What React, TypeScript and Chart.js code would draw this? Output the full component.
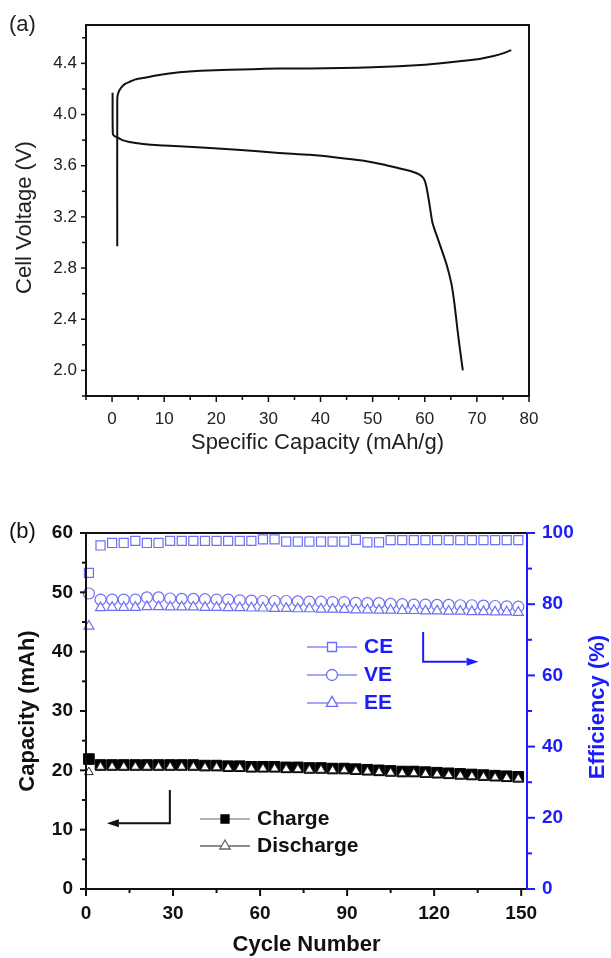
import React, { useEffect, useRef } from 'react';
import { Chart, registerables } from 'chart.js';

Chart.register(...registerables);

const FONT = '"Liberation Sans", Arial, Helvetica, sans-serif';

// ---------- Panel (a): voltage profile ----------
const CHARGE_CAP = [1.0, 1.0, 1.2, 1.75, 2.5, 3.35, 4.5, 6.5, 9, 12.9, 17, 22.5, 27, 32, 38, 44, 50, 55, 60, 64, 67.5, 70.5, 73, 75, 76.6];
const CHARGE_V = [2.97, 4.12, 4.17, 4.21, 4.24, 4.256, 4.275, 4.29, 4.31, 4.33, 4.342, 4.35, 4.355, 4.36, 4.36, 4.363, 4.37, 4.378, 4.39, 4.405, 4.42, 4.434, 4.455, 4.478, 4.504];
const DISCHARGE_CAP = [0.1, 0.15, 0.5, 1.1, 2, 3.35, 6, 9, 12.9, 18, 24, 32, 38, 43, 48, 52, 55, 57.5, 59, 59.8, 60.3, 60.9, 61.5, 62.5, 64.1, 65.1, 65.7, 66.3, 66.8, 67.3];
const DISCHARGE_V = [4.17, 3.85, 3.83, 3.82, 3.8, 3.785, 3.77, 3.76, 3.753, 3.74, 3.725, 3.7, 3.685, 3.665, 3.64, 3.61, 3.58, 3.555, 3.53, 3.5, 3.44, 3.3, 3.15, 3.03, 2.84, 2.68, 2.52, 2.31, 2.15, 2.0];
const A_X_LABEL_TICKS = [0, 10, 20, 30, 40, 50, 60, 70, 80];
const A_X_MINOR_TICKS = [-5, 5, 15, 25, 35, 45, 55, 65, 75];
const A_Y_LABEL_TICKS = [2.0, 2.4, 2.8, 3.2, 3.6, 4.0, 4.4];
const A_Y_MINOR_TICKS = [1.8, 2.2, 2.6, 3.0, 3.4, 3.8, 4.2, 4.6];

// ---------- Panel (b): cycling ----------
const CYCLES = [1, 5, 9, 13, 17, 21, 25, 29, 33, 37, 41, 45, 49, 53, 57, 61, 65, 69, 73, 77, 81, 85, 89, 93, 97, 101, 105, 109, 113, 117, 121, 125, 129, 133, 137, 141, 145, 149];
const CHARGE_MAH = [21.9, 20.9, 20.9, 20.9, 20.9, 20.9, 20.9, 20.9, 20.9, 20.9, 20.8, 20.8, 20.7, 20.7, 20.6, 20.6, 20.6, 20.5, 20.5, 20.4, 20.4, 20.3, 20.3, 20.2, 20.1, 20.0, 19.9, 19.8, 19.8, 19.7, 19.6, 19.5, 19.4, 19.3, 19.2, 19.1, 19.0, 18.9];
const DISCHARGE_MAH = [19.7, 20.6, 20.6, 20.6, 20.6, 20.6, 20.6, 20.6, 20.6, 20.6, 20.5, 20.5, 20.4, 20.4, 20.3, 20.3, 20.3, 20.2, 20.2, 20.1, 20.1, 20.0, 20.0, 19.9, 19.8, 19.7, 19.6, 19.5, 19.5, 19.4, 19.3, 19.2, 19.1, 19.0, 18.9, 18.8, 18.7, 18.6];
const CE = [88.8, 96.5, 97.2, 97.2, 97.8, 97.2, 97.2, 97.8, 97.8, 97.8, 97.8, 97.8, 97.8, 97.8, 97.8, 98.2, 98.2, 97.6, 97.6, 97.6, 97.6, 97.6, 97.6, 98.1, 97.4, 97.4, 98.0, 98.0, 98.0, 98.0, 98.0, 98.0, 98.0, 98.0, 98.0, 98.0, 98.0, 98.0];
const VE = [83.0, 81.3, 81.3, 81.3, 81.3, 81.9, 81.9, 81.6, 81.5, 81.5, 81.4, 81.3, 81.3, 81.1, 81.0, 80.9, 80.9, 80.9, 80.8, 80.7, 80.7, 80.6, 80.6, 80.4, 80.3, 80.3, 80.1, 80.0, 79.9, 79.9, 79.8, 79.8, 79.7, 79.7, 79.6, 79.5, 79.4, 79.3];
const EE = [73.8, 79.0, 79.1, 79.1, 79.1, 79.3, 79.3, 79.2, 79.2, 79.2, 79.1, 79.1, 79.0, 79.0, 78.9, 78.9, 78.8, 78.8, 78.7, 78.7, 78.6, 78.6, 78.5, 78.4, 78.4, 78.3, 78.3, 78.2, 78.2, 78.1, 78.1, 78.0, 78.0, 77.9, 77.9, 77.8, 77.8, 77.7];
const B_X_LABEL_TICKS = [0, 30, 60, 90, 120, 150];
const B_X_MINOR_TICKS = [15, 45, 75, 105, 135];
const B_YL_LABEL_TICKS = [0, 10, 20, 30, 40, 50, 60];
const B_YL_MINOR_TICKS = [5, 15, 25, 35, 45, 55];
const B_YR_LABEL_TICKS = [0, 20, 40, 60, 80, 100];
const B_YR_MINOR_TICKS = [10, 30, 50, 70, 90];

const BLUE = '#1c1cff';
const MARK_BLUE = '#6e6ef2';

function ticksV(ctx: CanvasRenderingContext2D, scale: any, values: number[], xEdge: number, dir: number, len: number) {
  values.forEach((v) => {
    const p = scale.getPixelForValue(v);
    ctx.beginPath();
    ctx.moveTo(xEdge, p);
    ctx.lineTo(xEdge + dir * len, p);
    ctx.stroke();
  });
}
function ticksH(ctx: CanvasRenderingContext2D, scale: any, values: number[], yEdge: number, len: number) {
  values.forEach((v) => {
    const p = scale.getPixelForValue(v);
    ctx.beginPath();
    ctx.moveTo(p, yEdge);
    ctx.lineTo(p, yEdge + len);
    ctx.stroke();
  });
}
function text(ctx: CanvasRenderingContext2D, s: string, x: number, y: number, font: string, color: string, align: CanvasTextAlign = 'center', rot = 0) {
  ctx.save();
  ctx.font = font;
  ctx.fillStyle = color;
  ctx.textAlign = align;
  ctx.textBaseline = 'middle';
  ctx.translate(x, y);
  if (rot) ctx.rotate(rot);
  ctx.fillText(s, 0, 0);
  ctx.restore();
}
function marker(ctx: CanvasRenderingContext2D, style: string, x: number, y: number, size: number, fill: string, stroke: string, lw: number) {
  ctx.save();
  ctx.beginPath();
  if (style === 'rect') ctx.rect(x - size / 2, y - size / 2, size, size);
  else if (style === 'circle') ctx.arc(x, y, size / 2, 0, Math.PI * 2);
  else {
    const r = size * 0.6;
    ctx.moveTo(x, y - r);
    ctx.lineTo(x + r * 0.866, y + r / 2);
    ctx.lineTo(x - r * 0.866, y + r / 2);
    ctx.closePath();
  }
  ctx.fillStyle = fill;
  ctx.fill();
  ctx.lineWidth = lw;
  ctx.strokeStyle = stroke;
  ctx.stroke();
  ctx.restore();
}

const panelAPlugin = {
  id: 'panelA',
  afterDraw(chart: any) {
    const { ctx, chartArea: a, scales } = chart;
    const x = scales.x;
    const y = scales.y;
    ctx.save();
    ctx.strokeStyle = '#111';
    ctx.lineWidth = 2;
    ctx.strokeRect(a.left, a.top, a.right - a.left, a.bottom - a.top);
    ctx.lineWidth = 1.5;
    ticksV(ctx, y, A_Y_LABEL_TICKS, a.left, -1, 5);
    ticksV(ctx, y, A_Y_MINOR_TICKS, a.left, -1, 4);
    ticksH(ctx, x, A_X_LABEL_TICKS, a.bottom, 6);
    ticksH(ctx, x, A_X_MINOR_TICKS, a.bottom, 4);
    ctx.restore();
    const cx = (a.left + a.right) / 2;
    const cy = (a.top + a.bottom) / 2;
    text(ctx, 'Specific Capacity (mAh/g)', cx + 10, a.bottom + 47, `22px ${FONT}`, '#222');
    text(ctx, 'Cell Voltage (V)', a.left - 61, cy + 7, `22px ${FONT}`, '#222', 'center', -Math.PI / 2);
    text(ctx, '(a)', 9, 25, `22px ${FONT}`, '#222', 'left');
  },
};

const panelBPlugin = {
  id: 'panelB',
  afterDraw(chart: any) {
    const { ctx, chartArea: a, scales } = chart;
    const x = scales.x;
    const yl = scales.y;
    const yr = scales.y2;
    ctx.save();
    ctx.lineCap = 'butt';
    ctx.lineWidth = 2;
    ctx.strokeStyle = '#111';
    ctx.beginPath();
    ctx.moveTo(a.right, a.top);
    ctx.lineTo(a.left, a.top);
    ctx.lineTo(a.left, a.bottom);
    ctx.lineTo(a.right, a.bottom);
    ctx.stroke();
    ctx.strokeStyle = BLUE;
    ctx.beginPath();
    ctx.moveTo(a.right, a.top - 1);
    ctx.lineTo(a.right, a.bottom + 1);
    ctx.stroke();
    ctx.lineWidth = 2;
    ctx.strokeStyle = '#111';
    ticksV(ctx, yl, B_YL_LABEL_TICKS, a.left, -1, 6);
    ticksV(ctx, yl, B_YL_MINOR_TICKS, a.left, -1, 4);
    ticksH(ctx, x, B_X_LABEL_TICKS, a.bottom, 7);
    ticksH(ctx, x, B_X_MINOR_TICKS, a.bottom, 4);
    ctx.strokeStyle = BLUE;
    ticksV(ctx, yr, B_YR_LABEL_TICKS, a.right, 1, 8);
    ticksV(ctx, yr, B_YR_MINOR_TICKS, a.right, 1, 5);

    const arrow = (pts: number[][], color: string, dirLeft: boolean) => {
      ctx.strokeStyle = color;
      ctx.fillStyle = color;
      ctx.lineWidth = 2;
      const [p0, p1, p2] = pts;
      const head = 12;
      const tipX = p2[0];
      const baseX = dirLeft ? tipX + head : tipX - head;
      ctx.beginPath();
      ctx.moveTo(p0[0], p0[1]);
      ctx.lineTo(p1[0], p1[1]);
      ctx.lineTo(baseX, p2[1]);
      ctx.stroke();
      ctx.beginPath();
      ctx.moveTo(tipX, p2[1]);
      ctx.lineTo(baseX, p2[1] - 4);
      ctx.lineTo(baseX, p2[1] + 4);
      ctx.closePath();
      ctx.fill();
    };
    arrow([
      [x.getPixelForValue(28.9), yl.getPixelForValue(16.7)],
      [x.getPixelForValue(28.9), yl.getPixelForValue(11.1)],
      [x.getPixelForValue(7.2), yl.getPixelForValue(11.1)],
    ], '#111', true);
    arrow([
      [x.getPixelForValue(116.2), yr.getPixelForValue(72.2)],
      [x.getPixelForValue(116.2), yr.getPixelForValue(63.8)],
      [x.getPixelForValue(135.3), yr.getPixelForValue(63.8)],
    ], BLUE, false);

    const leg = (mx: number, my: number, style: string, fill: string, stroke: string, lineColor: string, label: string, color: string, size: number) => {
      ctx.strokeStyle = lineColor;
      ctx.lineWidth = 1.5;
      ctx.beginPath();
      ctx.moveTo(mx - 25, my);
      ctx.lineTo(mx + 25, my);
      ctx.stroke();
      marker(ctx, style, mx, my, size, fill, stroke, 1.3);
      text(ctx, label, mx + 32, my, `bold 21px ${FONT}`, color, 'left');
    };
    const l1x = a.left + 139;
    const l1y = a.top + 286;
    leg(l1x, l1y, 'rect', '#000', '#000', '#9a9a9a', 'Charge', '#111', 8);
    leg(l1x, l1y + 27, 'triangle', '#fff', '#666', '#666', 'Discharge', '#111', 10);
    const l2x = a.left + 246;
    const l2y = a.top + 114;
    leg(l2x, l2y, 'rect', '#fff', MARK_BLUE, '#8a8af0', 'CE', BLUE, 9);
    leg(l2x, l2y + 28, 'circle', '#fff', MARK_BLUE, '#8a8af0', 'VE', BLUE, 11);
    leg(l2x, l2y + 56, 'triangle', '#fff', MARK_BLUE, '#8a8af0', 'EE', BLUE, 11);
    ctx.restore();

    const cx = (a.left + a.right) / 2;
    const cy = (a.top + a.bottom) / 2;
    text(ctx, 'Cycle Number', cx, a.bottom + 56, `bold 22px ${FONT}`, '#111');
    text(ctx, 'Capacity (mAh)', a.left - 58, cy, `bold 22px ${FONT}`, '#111', 'center', -Math.PI / 2);
    text(ctx, 'Efficiency (%)', a.right + 71, cy - 4, `bold 22px ${FONT}`, BLUE, 'center', -Math.PI / 2);
    text(ctx, '(b)', 9, a.top - 1, `22px ${FONT}`, '#111', 'left');
  },
};

function fixedTicks(values: number[]) {
  return (scale: any) => {
    scale.ticks = values.map((v) => ({ value: v }));
  };
}

export default function App() {
  const refA = useRef<HTMLCanvasElement>(null);
  const refB = useRef<HTMLCanvasElement>(null);

  useEffect(() => {
    document.body.style.margin = '0';
    Chart.defaults.font.family = FONT;

    const chartA = new Chart(refA.current as HTMLCanvasElement, {
      type: 'scatter',
      data: {
        datasets: [
          {
            data: CHARGE_CAP.map((c, i) => ({ x: c, y: CHARGE_V[i] })),
            showLine: true,
            borderColor: '#111',
            borderWidth: 2,
            pointRadius: 0,
            tension: 0.2,
          },
          {
            data: DISCHARGE_CAP.map((c, i) => ({ x: c, y: DISCHARGE_V[i] })),
            showLine: true,
            borderColor: '#111',
            borderWidth: 2,
            pointRadius: 0,
            tension: 0.2,
          },
        ],
      },
      options: {
        responsive: false,
        animation: false,
        devicePixelRatio: 1,
        layout: { padding: { left: 0, right: 82, top: 25, bottom: 0 } },
        plugins: { legend: { display: false }, tooltip: { enabled: false } },
        scales: {
          x: {
            type: 'linear',
            min: -5,
            max: 80,
            grid: { display: false, drawTicks: false },
            border: { display: false },
            afterBuildTicks: fixedTicks(A_X_LABEL_TICKS),
            afterFit: (s: any) => { s.height = 74; },
            ticks: { font: { size: 17, family: FONT }, color: '#222', padding: 13, callback: (v: any) => String(v) },
          },
          y: {
            type: 'linear',
            min: 1.8,
            max: 4.7,
            grid: { display: false, drawTicks: false },
            border: { display: false },
            afterBuildTicks: fixedTicks(A_Y_LABEL_TICKS),
            afterFit: (s: any) => { s.width = 86; },
            ticks: { font: { size: 17, family: FONT }, color: '#222', padding: 9, callback: (v: any) => Number(v).toFixed(1) },
          },
        },
      } as any,
      plugins: [panelAPlugin],
    });

    const pts = (vals: number[]) => CYCLES.map((c, i) => ({ x: c, y: vals[i] }));
    const chartB = new Chart(refB.current as HTMLCanvasElement, {
      type: 'scatter',
      data: {
        datasets: [
          { data: pts(DISCHARGE_MAH), yAxisID: 'y', pointStyle: 'triangle', pointRadius: 5, backgroundColor: '#fff', borderColor: '#222', borderWidth: 1, clip: false },
          { data: pts(CHARGE_MAH), yAxisID: 'y', pointStyle: 'rect', pointRadius: 7.5, backgroundColor: '#000', borderColor: '#000', borderWidth: 1, clip: false },
          { data: pts(EE), yAxisID: 'y2', pointStyle: 'triangle', pointRadius: 5.8, backgroundColor: '#fff', borderColor: MARK_BLUE, borderWidth: 1.2, clip: false },
          { data: pts(VE), yAxisID: 'y2', pointStyle: 'circle', pointRadius: 5.5, backgroundColor: '#fff', borderColor: MARK_BLUE, borderWidth: 1.2, clip: false },
          { data: pts(CE), yAxisID: 'y2', pointStyle: 'rect', pointRadius: 6.4, backgroundColor: '#fff', borderColor: MARK_BLUE, borderWidth: 1.2, clip: false },
        ],
      },
      options: {
        responsive: false,
        animation: false,
        devicePixelRatio: 1,
        layout: { padding: { left: 0, right: 0, top: 63, bottom: 0 } },
        plugins: { legend: { display: false }, tooltip: { enabled: false } },
        scales: {
          x: {
            type: 'linear',
            min: 0,
            max: 152,
            grid: { display: false, drawTicks: false },
            border: { display: false },
            afterBuildTicks: fixedTicks(B_X_LABEL_TICKS),
            afterFit: (s: any) => { s.height = 69; },
            ticks: { font: { size: 19, weight: 'bold', family: FONT }, color: '#111', padding: 13, callback: (v: any) => String(v) },
          },
          y: {
            type: 'linear',
            position: 'left',
            min: 0,
            max: 60,
            grid: { display: false, drawTicks: false },
            border: { display: false },
            afterBuildTicks: fixedTicks(B_YL_LABEL_TICKS),
            afterFit: (s: any) => { s.width = 86; },
            ticks: { font: { size: 19, weight: 'bold', family: FONT }, color: '#111', padding: 13, callback: (v: any) => String(v) },
          },
          y2: {
            type: 'linear',
            position: 'right',
            min: 0,
            max: 100,
            grid: { display: false, drawTicks: false },
            border: { display: false },
            afterBuildTicks: fixedTicks(B_YR_LABEL_TICKS),
            afterFit: (s: any) => { s.width = 84; },
            ticks: { font: { size: 19, weight: 'bold', family: FONT }, color: BLUE, padding: 15, callback: (v: any) => String(v) },
          },
        },
      } as any,
      plugins: [panelBPlugin],
    });

    return () => {
      chartA.destroy();
      chartB.destroy();
    };
  }, []);

  return (
    <div style={{ position: 'relative', width: 611, height: 958, background: '#fff', overflow: 'hidden' }}>
      <canvas ref={refA} width={611} height={470} style={{ position: 'absolute', left: 0, top: 0, display: 'block' }} />
      <canvas ref={refB} width={611} height={488} style={{ position: 'absolute', left: 0, top: 470, display: 'block' }} />
    </div>
  );
}
